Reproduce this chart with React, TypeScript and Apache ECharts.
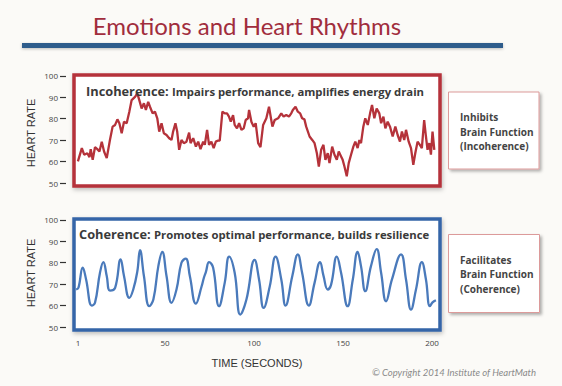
import React, { useEffect, useRef } from "react";
import * as echarts from "echarts";

// Incoherence (top, red) — time in seconds, heart rate in bpm
const incohTime = [
  1, 3.2, 4.5, 6.3, 7.5, 8.2, 9.3, 10.6, 11.9, 13.1, 14.4, 15.7, 17.2, 19.0, 20.5, 21.9, 23.2, 24.3, 25.6, 26.9,
  28.4, 29.9, 31.2, 33.1, 34.4, 35.5, 36.8, 38.1, 39.2, 40.5, 41.5, 43.0, 44.3, 45.6, 46.7, 48.0, 49.3, 50.8, 52.3, 53.6,
  54.5, 55.8, 56.8, 57.9, 59.2, 60.5, 62.0, 63.5, 64.3, 65.8, 67.3, 68.6, 69.9, 71.4, 72.3, 73.6, 74.7, 76.0, 77.3, 78.5,
  79.8, 80.7, 82.2, 83.5, 84.8, 85.9, 86.9, 88.2, 89.1, 90.4, 91.6, 92.9, 94.2, 95.3, 96.6, 97.2, 98.5, 99.8, 100.9, 102.3,
  103.6, 105.1, 106.9, 108.4, 110.3, 111.6, 113.5, 115.3, 116.6, 118.1, 119.6, 120.9, 121.8, 123.3, 124.6, 125.9, 127.0, 128.3, 129.3, 131.2,
  132.7, 134.0, 135.3, 136.4, 137.7, 139.0, 140.1, 141.4, 142.4, 143.9, 145.2, 146.5, 147.6, 148.9, 149.8, 150.8, 152.1, 153.2, 154.5, 155.8,
  156.9, 158.2, 159.2, 160.1, 161.4, 162.5, 163.9, 165.2, 166.3, 167.6, 168.9, 170.4, 171.4, 172.7, 173.8, 175.1, 176.4, 177.9, 179.4, 180.7,
  182.0, 183.1, 184.4, 185.4, 186.9, 188.2, 189.5, 190.6, 191.9, 193.2, 194.3, 195.6, 196.6, 197.5, 198.5, 199.4, 200.3, 201.3,
];
const incohHR = [
  60.1, 66.3, 63.2, 63.9, 62.1, 65.8, 60.8, 66.7, 65.8, 64.7, 69.3, 64.7, 61.6, 70.1, 76.3, 77.1, 79.7, 77.9, 73.2, 78.6,
  77.9, 83.3, 88.7, 90.2, 91.8, 88.7, 84.8, 87.2, 84.1, 87.9, 85.6, 82.5, 83.3, 80.2, 74.0, 77.9, 73.2, 72.4, 70.9, 70.1,
  74.0, 77.9, 74.0, 65.5, 70.1, 68.6, 69.3, 73.5, 68.6, 70.9, 67.0, 69.3, 65.8, 69.3, 67.8, 74.8, 67.8, 69.3, 66.3, 69.3,
  69.8, 69.8, 83.3, 82.5, 82.5, 81.0, 78.6, 81.7, 77.1, 75.5, 77.9, 74.8, 75.5, 79.4, 80.2, 84.1, 78.6, 76.3, 77.9, 68.6,
  66.7, 77.1, 80.2, 85.6, 76.3, 79.4, 80.2, 82.5, 81.0, 81.7, 81.0, 82.5, 84.1, 85.6, 83.3, 82.5, 80.2, 79.7, 76.3, 71.7,
  70.1, 68.6, 63.9, 57.7, 65.5, 67.8, 60.8, 63.9, 59.3, 67.0, 63.2, 60.8, 64.7, 62.4, 60.8, 57.7, 53.1, 59.3, 63.2, 67.0,
  69.3, 66.3, 70.1, 68.6, 76.3, 80.2, 77.1, 82.5, 86.4, 80.2, 84.8, 82.5, 77.9, 81.0, 75.5, 78.6, 76.3, 71.7, 76.3, 72.4,
  69.3, 74.0, 70.1, 74.8, 69.3, 66.3, 58.5, 63.9, 69.3, 67.8, 66.3, 79.4, 71.7, 65.5, 68.6, 63.2, 74.0, 65.5,
];

// Coherence (bottom, blue)
const cohTime = [
  0, 1.3, 3.7, 5.6, 8.8, 10.6, 13.4, 15.3, 17.2, 19.0, 21.9, 25.0, 26.9, 29.9, 32.1, 34.4, 35.9, 38.1, 41.1, 43.4,
  46.2, 48.4, 50.8, 53.6, 56.4, 59.2, 61.6, 63.9, 67.3, 70.5, 71.8, 72.9, 74.7, 77.0, 80.3, 83.5, 86.0, 89.1, 92.3, 95.7,
  100.3, 102.8, 105.4, 108.8, 112.1, 115.3, 117.7, 121.5, 124.6, 127.0, 130.8, 134.0, 137.1, 139.0, 141.4, 143.3, 146.5, 148.9, 152.6, 155.5,
  158.2, 160.1, 162.5, 165.7, 168.9, 171.4, 174.2, 177.5, 182.6, 185.4, 188.2, 191.0, 194.3, 196.6, 198.8, 200.3, 202.2,
];
const cohHR = [
  67.5, 68.3, 77.7, 72.2, 60.0, 61.3, 75.3, 80.3, 73.8, 67.0, 68.3, 81.6, 73.8, 63.6, 67.5, 76.0, 85.9, 73.8, 59.7, 62.8,
  78.4, 85.0, 73.8, 61.3, 67.5, 80.0, 81.9, 73.8, 60.9, 68.9, 73.0, 75.6, 80.3, 77.7, 59.7, 70.6, 82.8, 75.3, 55.8, 62.8,
  81.3, 72.2, 58.9, 68.9, 82.8, 72.2, 60.0, 73.8, 83.9, 75.3, 60.0, 70.6, 80.3, 74.0, 67.5, 69.8, 82.8, 75.3, 59.7, 72.2,
  85.0, 78.4, 66.7, 78.4, 86.3, 75.3, 62.0, 72.2, 83.9, 72.2, 58.1, 67.5, 80.3, 72.2, 59.7, 61.5, 62.5,
];

const xTickLabels = [1, 50, 100, 150, 200];
const yTickLabels = [50, 60, 70, 80, 90, 100];

const TITLE = "Emotions and Heart Rhythms";
const TOP_LABEL_BOLD = "Incoherence:";
const TOP_LABEL = "Impairs performance, amplifies energy drain";
const BOTTOM_LABEL_BOLD = "Coherence:";
const BOTTOM_LABEL = "Promotes optimal performance, builds resilience";
const TOP_BOX_LINES = ["Inhibits", "Brain Function", "(Incoherence)"];
const BOTTOM_BOX_LINES = ["Facilitates", "Brain Function", "(Coherence)"];
const Y_NAME = "HEART RATE";
const X_NAME = "TIME (SECONDS)";
const COPYRIGHT = "© Copyright 2014 Institute of HeartMath";

const RED = "#b5323a";
const BLUE = "#3465a8";
const TEXT = "#3a3a3a";
const TICK_FONT = "Open Sans";

export default function App() {
  const ref = useRef<HTMLDivElement>(null);

  useEffect(() => {
    document.body.style.margin = "0";
    if (!ref.current) return;
    const chart = echarts.init(ref.current, null, { renderer: "svg" });

    const incohData = incohTime.map((t, i) => [t, incohHR[i]]);
    const cohData = cohTime.map((t, i) => [t, cohHR[i]]);

    const xBase = {
      type: "value" as const,
      min: -1.2,
      max: 204.5,
      splitLine: { show: false },
      axisLine: { show: false, onZero: false },
      axisTick: { show: false },
    };
    const yBase = {
      type: "value" as const,
      position: "left" as const,
      min: 48.6,
      max: 100.4,
      offset: 8,
      splitLine: { show: false },
      axisLine: { show: true, onZero: false, lineStyle: { color: "rgba(0,0,0,0)", width: 0 } },
      axisTick: {
        show: true,
        inside: false,
        length: 6,
        customValues: yTickLabels,
        lineStyle: { color: "#333", width: 1.2, opacity: 1 },
      },
      axisLabel: {
        customValues: yTickLabels,
        fontSize: 8,
        margin: 8,
        color: "#444",
        fontFamily: TICK_FONT,
      },
    };

    const boxLines = (lines: string[], x: number, y0: number) =>
      lines.map((s, i) => ({
        type: "text",
        x,
        y: y0 + i * 14.3,
        style: {
          text: s,
          fontSize: 10,
          fontWeight: "bold",
          fontFamily: "Open Sans",
          fill: "#444",
          verticalAlign: "middle",
        },
      }));

    const richLabel = {
      a: { fontSize: 12.8, fontWeight: "bold", fontFamily: "Open Sans", fill: TEXT, color: TEXT },
      b: { fontSize: 11.3, fontWeight: "bold", fontFamily: "Open Sans", fill: TEXT, color: TEXT },
    };

    chart.setOption({
      animation: false,
      backgroundColor: "#fbfaf7",
      grid: [
        {
          left: 74,
          top: 75,
          width: 366,
          height: 111,
          show: true,
          borderColor: RED,
          borderWidth: 3.5,
          backgroundColor: "#ffffff",
          shadowColor: "rgba(0,0,0,0.25)",
          shadowBlur: 4,
          shadowOffsetX: 1,
          shadowOffsetY: 2,
        },
        {
          left: 74,
          top: 219,
          width: 366,
          height: 111,
          show: true,
          borderColor: BLUE,
          borderWidth: 3.5,
          backgroundColor: "#ffffff",
          shadowColor: "rgba(0,0,0,0.25)",
          shadowBlur: 4,
          shadowOffsetX: 1,
          shadowOffsetY: 2,
        },
      ],
      xAxis: [
        { ...xBase, gridIndex: 0, axisLabel: { show: false } },
        {
          ...xBase,
          gridIndex: 1,
          axisLabel: {
            customValues: xTickLabels,
            fontSize: 8,
            margin: 8,
            color: "#444",
            fontFamily: TICK_FONT,
          },
        },
      ],
      yAxis: [
        { ...yBase, gridIndex: 0 },
        { ...yBase, gridIndex: 1 },
      ],
      series: [
        {
          type: "line",
          xAxisIndex: 0,
          yAxisIndex: 0,
          data: incohData,
          showSymbol: false,
          lineStyle: { color: RED, width: 2.3 },
          z: 3,
        },
        {
          type: "line",
          xAxisIndex: 1,
          yAxisIndex: 1,
          data: cohData,
          smooth: 0.45,
          showSymbol: false,
          lineStyle: { color: "#4a7abb", width: 2.3 },
          z: 3,
        },
      ],
      graphic: [
        {
          type: "text",
          x: 247,
          y: 25,
          style: {
            text: TITLE,
            fontSize: 24,
            fontFamily: "Lato",
            fill: "#a12d3d",
            align: "center",
            verticalAlign: "middle",
          },
        },
        {
          type: "rect",
          shape: { x: 22, y: 43, width: 481, height: 5 },
          style: {
            fill: "#2e5b8b",
            shadowColor: "rgba(0,0,0,0.25)",
            shadowBlur: 3,
            shadowOffsetY: 1,
          },
        },
        {
          type: "text",
          x: 86,
          y: 91,
          z: 10,
          style: {
            text: `{a|${TOP_LABEL_BOLD}} {b|${TOP_LABEL}}`,
            verticalAlign: "middle",
            rich: richLabel,
          },
        },
        {
          type: "text",
          x: 79,
          y: 234,
          z: 10,
          style: {
            text: `{a|${BOTTOM_LABEL_BOLD}} {b|${BOTTOM_LABEL}}`,
            verticalAlign: "middle",
            rich: richLabel,
          },
        },
        {
          type: "rect",
          shape: { x: 448.5, y: 92, width: 90.5, height: 77 },
          style: {
            fill: "#ffffff",
            stroke: "#dc9a9a",
            lineWidth: 1,
            shadowColor: "rgba(0,0,0,0.3)",
            shadowBlur: 3,
            shadowOffsetX: 2,
            shadowOffsetY: 2,
          },
        },
        {
          type: "rect",
          shape: { x: 448.5, y: 234.5, width: 91, height: 78 },
          style: {
            fill: "#ffffff",
            stroke: "#dc9a9a",
            lineWidth: 1,
            shadowColor: "rgba(0,0,0,0.3)",
            shadowBlur: 3,
            shadowOffsetX: 2,
            shadowOffsetY: 2,
          },
        },
        ...boxLines(TOP_BOX_LINES, 460, 117.3),
        ...boxLines(BOTTOM_BOX_LINES, 460, 260),
        {
          type: "text",
          x: 31,
          y: 133,
          rotation: Math.PI / 2,
          style: {
            text: Y_NAME,
            fontSize: 11,
            fontFamily: "Liberation Sans",
            fill: "#333",
            align: "center",
            verticalAlign: "middle",
          },
        },
        {
          type: "text",
          x: 31,
          y: 273,
          rotation: Math.PI / 2,
          style: {
            text: Y_NAME,
            fontSize: 11,
            fontFamily: "Liberation Sans",
            fill: "#333",
            align: "center",
            verticalAlign: "middle",
          },
        },
        {
          type: "text",
          x: 257,
          y: 363,
          style: {
            text: X_NAME,
            fontSize: 11,
            fontFamily: "Liberation Sans",
            fill: "#333",
            align: "center",
            verticalAlign: "middle",
          },
        },
        {
          type: "text",
          x: 536,
          y: 372,
          style: {
            text: COPYRIGHT,
            fontSize: 9.5,
            fontStyle: "italic",
            fontFamily: "Lato",
            fill: "#8a8a8a",
            align: "right",
            verticalAlign: "middle",
          },
        },
      ],
    });

    return () => chart.dispose();
  }, []);

  return (
    <div
      ref={ref}
      style={{ position: "absolute", left: 0, top: 0, width: 562, height: 386 }}
    />
  );
}
